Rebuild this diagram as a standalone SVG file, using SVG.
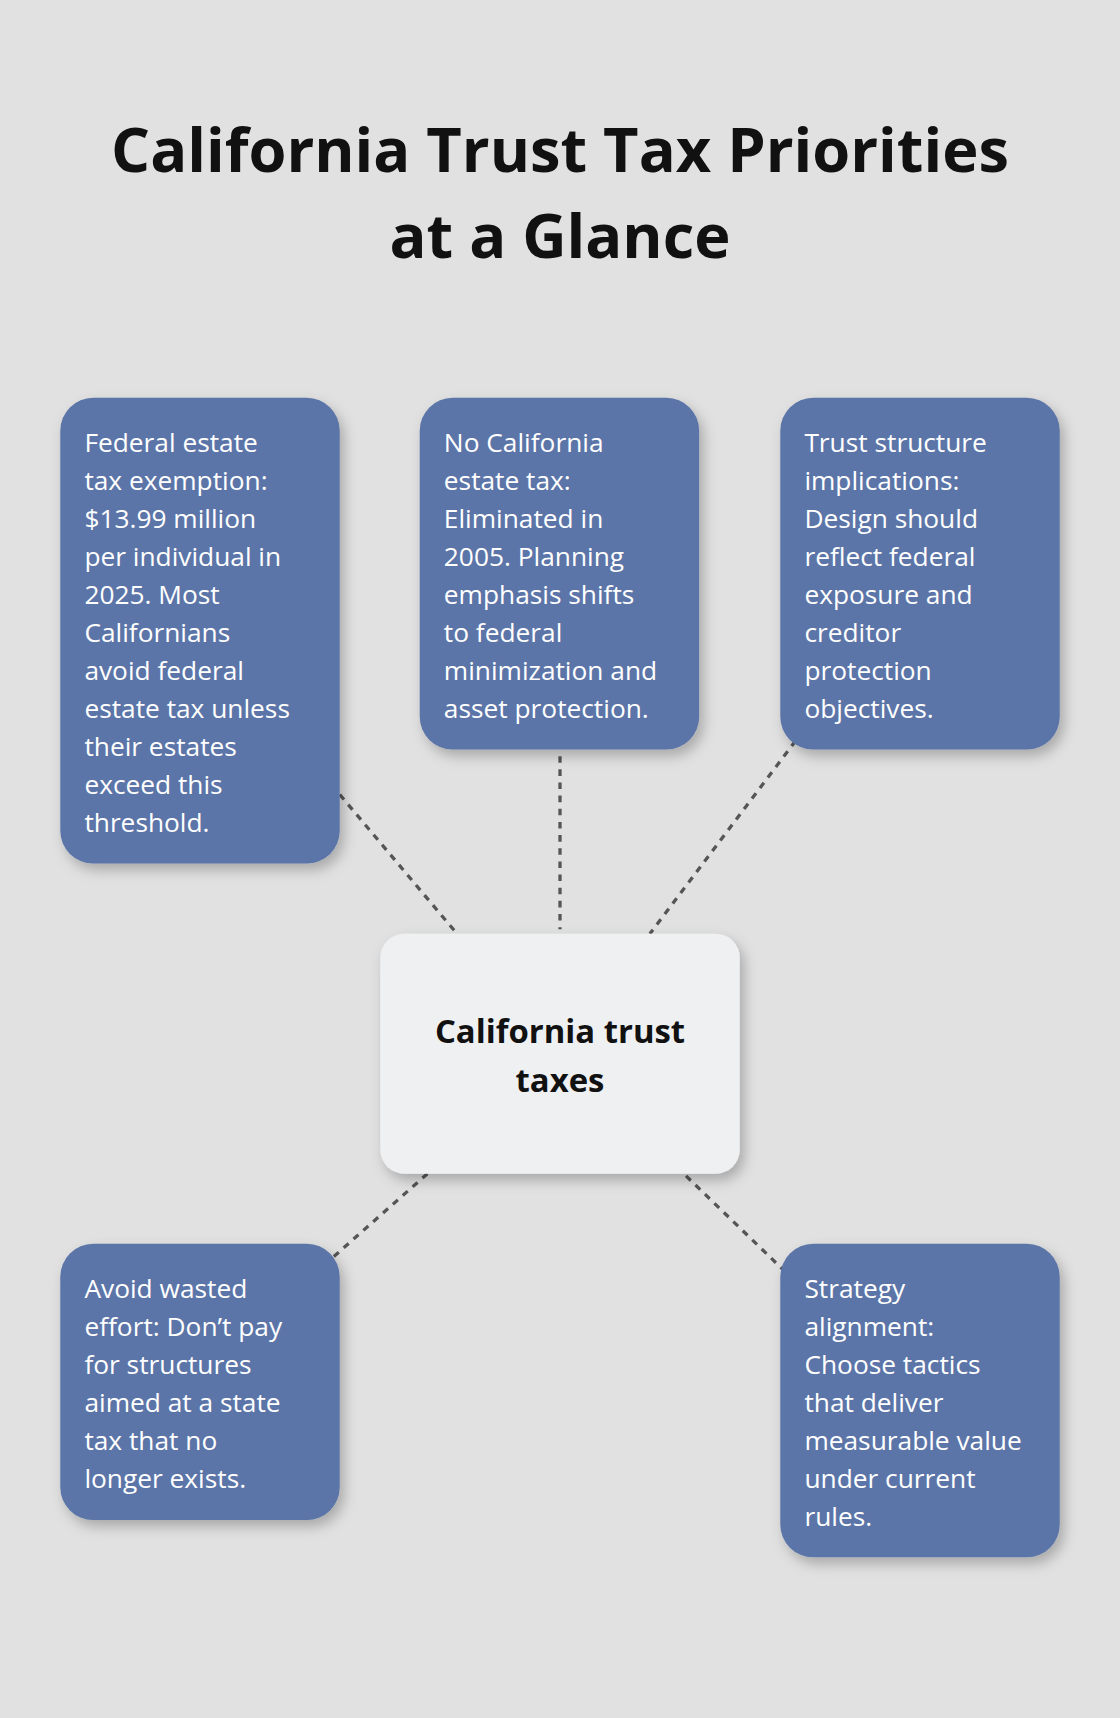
<svg xmlns="http://www.w3.org/2000/svg" width="1120" height="1718" viewBox="0 0 1120 1718">
<defs>
<filter id="sh" x="-20%" y="-20%" width="140%" height="140%"><feDropShadow dx="4" dy="6" stdDeviation="6" flood-color="#000" flood-opacity="0.25"/></filter>
<style>
.b{fill:#5b75a8;filter:url(#sh)}
.t{font-family:"Open Sans","Liberation Sans",sans-serif;font-size:24px;fill:#fff}
.c{stroke:#555;stroke-width:3;stroke-dasharray:6 6;fill:none}
</style>
</defs>
<rect width="1120" height="1718" fill="#e0e1e0"/>
<g transform="scale(1.0959)">
<text x="511" y="157" text-anchor="middle" font-family="Open Sans, Liberation Sans, sans-serif" font-weight="bold" font-size="56" fill="#111">California Trust Tax Priorities</text>
<text x="511" y="235" text-anchor="middle" font-family="Open Sans, Liberation Sans, sans-serif" font-weight="bold" font-size="56" fill="#111">at a Glance</text>
<g id="connectors">
<line class="c" x1="310" y1="725" x2="417" y2="852"/>
<line class="c" x1="511" y1="690" x2="511" y2="848"/>
<line class="c" x1="726" y1="676" x2="593" y2="852"/>
<line class="c" x1="390" y1="1071" x2="303" y2="1148"/>
<line class="c" x1="626" y1="1073" x2="714" y2="1158"/>
</g>
<g id="n1"><rect class="b" x="55" y="363" width="255" height="425" rx="30"/>
<text class="t" x="77" y="412"><tspan x="77">Federal estate</tspan><tspan x="77" dy="34.7">tax exemption:</tspan><tspan x="77" dy="34.7">$13.99 million</tspan><tspan x="77" dy="34.7">per individual in</tspan><tspan x="77" dy="34.7">2025. Most</tspan><tspan x="77" dy="34.7">Californians</tspan><tspan x="77" dy="34.7">avoid federal</tspan><tspan x="77" dy="34.7">estate tax unless</tspan><tspan x="77" dy="34.7">their estates</tspan><tspan x="77" dy="34.7">exceed this</tspan><tspan x="77" dy="34.7">threshold.</tspan></text></g>
<g id="n2"><rect class="b" x="383" y="363" width="255" height="321" rx="30"/>
<text class="t" x="405" y="412"><tspan x="405">No California</tspan><tspan x="405" dy="34.7">estate tax:</tspan><tspan x="405" dy="34.7">Eliminated in</tspan><tspan x="405" dy="34.7">2005. Planning</tspan><tspan x="405" dy="34.7">emphasis shifts</tspan><tspan x="405" dy="34.7">to federal</tspan><tspan x="405" dy="34.7">minimization and</tspan><tspan x="405" dy="34.7">asset protection.</tspan></text></g>
<g id="n3"><rect class="b" x="712" y="363" width="255" height="321" rx="30"/>
<text class="t" x="734" y="412"><tspan x="734">Trust structure</tspan><tspan x="734" dy="34.7">implications:</tspan><tspan x="734" dy="34.7">Design should</tspan><tspan x="734" dy="34.7">reflect federal</tspan><tspan x="734" dy="34.7">exposure and</tspan><tspan x="734" dy="34.7">creditor</tspan><tspan x="734" dy="34.7">protection</tspan><tspan x="734" dy="34.7">objectives.</tspan></text></g>
<g id="center"><rect x="347" y="852" width="328" height="219" rx="22" fill="#eff0f2" filter="url(#sh)"/>
<text x="511" y="952" text-anchor="middle" font-family="Open Sans, Liberation Sans, sans-serif" font-weight="bold" font-size="30" fill="#111">California trust</text>
<text x="511" y="996" text-anchor="middle" font-family="Open Sans, Liberation Sans, sans-serif" font-weight="bold" font-size="30" fill="#111">taxes</text></g>
<g id="n4"><rect class="b" x="55" y="1135" width="255" height="252" rx="30"/>
<text class="t" x="77" y="1184"><tspan x="77">Avoid wasted</tspan><tspan x="77" dy="34.7">effort: Don’t pay</tspan><tspan x="77" dy="34.7">for structures</tspan><tspan x="77" dy="34.7">aimed at a state</tspan><tspan x="77" dy="34.7">tax that no</tspan><tspan x="77" dy="34.7">longer exists.</tspan></text></g>
<g id="n5"><rect class="b" x="712" y="1135" width="255" height="286" rx="30"/>
<text class="t" x="734" y="1184"><tspan x="734">Strategy</tspan><tspan x="734" dy="34.7">alignment:</tspan><tspan x="734" dy="34.7">Choose tactics</tspan><tspan x="734" dy="34.7">that deliver</tspan><tspan x="734" dy="34.7">measurable value</tspan><tspan x="734" dy="34.7">under current</tspan><tspan x="734" dy="34.7">rules.</tspan></text></g>
</g>
</svg>
